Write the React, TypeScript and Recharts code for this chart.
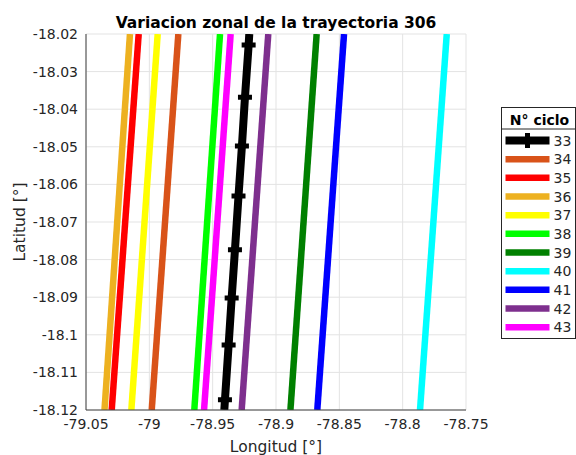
import React from "react";
import { LineChart, Line, XAxis, YAxis, CartesianGrid } from "recharts";

const lonTicks = [-79.05, -79, -78.95, -78.9, -78.85, -78.8, -78.75];
const lonTickLabels = ["-79.05", "-79", "-78.95", "-78.9", "-78.85", "-78.8", "-78.75"];
const latTicks = [-18.12, -18.11, -18.1, -18.09, -18.08, -18.07, -18.06, -18.05, -18.04, -18.03, -18.02];
const latTickLabels = ["-18.12", "-18.11", "-18.1", "-18.09", "-18.08", "-18.07", "-18.06", "-18.05", "-18.04", "-18.03", "-18.02"];

const cycles = ["33", "34", "35", "36", "37", "38", "39", "40", "41", "42", "43"];
const colors = ["#000000", "#D95319", "#FF0000", "#EDB120", "#FFFF00", "#00FF00", "#008000", "#00FFFF", "#0000FF", "#7E2F8E", "#FF00FF"];

// cycle 33 (with markers)
const lat33 = [-18.02, -18.0229, -18.0368, -18.0498, -18.0631, -18.0774, -18.0902, -18.1027, -18.1173, -18.12];
const lon33 = [-78.9211, -78.9216, -78.9245, -78.9269, -78.9296, -78.9324, -78.935, -78.9374, -78.9403, -78.9408];

// other cycles: top and bottom of the view
const latEdge = [-18.02, -18.12];
const lon34 = [-78.9771, -78.9981];
const lon35 = [-79.0084, -79.0297];
const lon36 = [-79.0153, -79.0354];
const lon37 = [-78.9934, -79.0142];
const lon38 = [-78.9442, -78.9645];
const lon39 = [-78.8679, -78.8886];
const lon40 = [-78.7652, -78.7863];
const lon41 = [-78.8463, -78.8674];
const lon42 = [-78.9061, -78.9271];
const lon43 = [-78.9358, -78.9568];

const mk = (lons: number[], lats: number[]) => lons.map((lon, i) => ({ lon, lat: lats[i] }));

const series = [
  mk(lon33, lat33),
  mk(lon34, latEdge),
  mk(lon35, latEdge),
  mk(lon36, latEdge),
  mk(lon37, latEdge),
  mk(lon38, latEdge),
  mk(lon39, latEdge),
  mk(lon40, latEdge),
  mk(lon41, latEdge),
  mk(lon42, latEdge),
  mk(lon43, latEdge),
];

const FONT = "DejaVu Sans, sans-serif";
const TXT = "#262626";

const PlusDot = (props: any) => {
  const { cx, cy, index } = props;
  if (index === 0 || index === lat33.length - 1 || cx == null || cy == null) return <g key={index} />;
  const s = 7;
  return (
    <path
      key={index}
      d={`M${cx - s},${cy}L${cx + s},${cy}M${cx},${cy - s}L${cx},${cy + s}`}
      stroke="#000"
      strokeWidth={5}
      fill="none"
    />
  );
};

export default function App() {
  const W = 576;
  const H = 455;
  return (
    <div style={{ position: "fixed", left: 0, top: 0, width: W, height: H, fontFamily: FONT, overflow: "hidden", background: "#fff" }}>
      <LineChart
        width={W}
        height={H}
        margin={{ top: 34, left: 16, right: 110, bottom: 15 }}
      >
        <CartesianGrid stroke="#e3e3e3" strokeWidth={1} />
        <XAxis
          type="number"
          dataKey="lon"
          domain={[-79.05, -78.75]}
          ticks={lonTicks}
          allowDataOverflow
          interval={0}
          height={30}
          tickSize={0}
          tickMargin={9}
          tickFormatter={(v: number) => {
            const i = lonTicks.findIndex((t) => Math.abs(t - v) < 1e-6);
            return i >= 0 ? lonTickLabels[i] : String(v);
          }}
          tick={{ fill: TXT, fontSize: 14, fontFamily: FONT }}
          axisLine={{ stroke: "#404040", strokeWidth: 1 }}
          tickLine={false}
        />
        <YAxis
          type="number"
          dataKey="lat"
          domain={[-18.12, -18.02]}
          ticks={latTicks}
          allowDataOverflow
          interval={0}
          width={70}
          tickSize={0}
          tickMargin={8}
          tickFormatter={(v: number) => {
            const i = latTicks.findIndex((t) => Math.abs(t - v) < 1e-6);
            return i >= 0 ? latTickLabels[i] : String(v);
          }}
          tick={{ fill: TXT, fontSize: 14, fontFamily: FONT }}
          axisLine={{ stroke: "#404040", strokeWidth: 1 }}
          tickLine={false}
        />
        {series.map((d, i) =>
          i === 0 ? null : (
            <Line
              key={cycles[i]}
              data={d}
              dataKey="lat"
              type="linear"
              stroke={colors[i]}
              strokeWidth={6.5}
              dot={false}
              activeDot={false}
              isAnimationActive={false}
            />
          )
        )}
        <Line
          key="33"
          data={series[0]}
          dataKey="lat"
          type="linear"
          stroke={colors[0]}
          strokeWidth={8}
          dot={PlusDot}
          activeDot={false}
          isAnimationActive={false}
        />
      </LineChart>
      <svg
        width={W}
        height={H}
        style={{ position: "absolute", left: 0, top: 0, pointerEvents: "none" }}
      >
        <text x={276} y={28} textAnchor="middle" fontSize={15.5} fontWeight="bold" fill="#000" fontFamily={FONT}>
          Variacion zonal de la trayectoria 306
        </text>
        <text x={276} y={451.5} textAnchor="middle" fontSize={15.5} fill={TXT} fontFamily={FONT}>
          Longitud [°]
        </text>
        <text
          x={0}
          y={0}
          transform="translate(25,222) rotate(-90)"
          textAnchor="middle"
          fontSize={15.5}
          fill={TXT}
          fontFamily={FONT}
        >
          Latitud [°]
        </text>
        <g transform="translate(501.5,107.5)">
          <rect x={0} y={0} width={74} height={231} fill="#fff" stroke="#262626" strokeWidth={1} />
          <line x1={0} y1={21.5} x2={74} y2={21.5} stroke="#262626" strokeWidth={1} />
          <text x={38} y={17} textAnchor="middle" fontSize={14} fontWeight="bold" fill="#000" fontFamily={FONT}>
            N° ciclo
          </text>
          {cycles.map((c, i) => {
            const y = 33 + 18.67 * i;
            return (
              <g key={c}>
                <line x1={4} y1={y} x2={48} y2={y} stroke={colors[i]} strokeWidth={i === 0 ? 8 : 6.5} />
                {i === 0 && (
                  <path d={`M${19},${y}L${33},${y}M${26},${y - 7.5}L${26},${y + 7.5}`} stroke="#000" strokeWidth={5} />
                )}
                <text x={52} y={y} dominantBaseline="central" fontSize={14} fill={TXT} fontFamily={FONT}>
                  {c}
                </text>
              </g>
            );
          })}
        </g>
      </svg>
    </div>
  );
}
